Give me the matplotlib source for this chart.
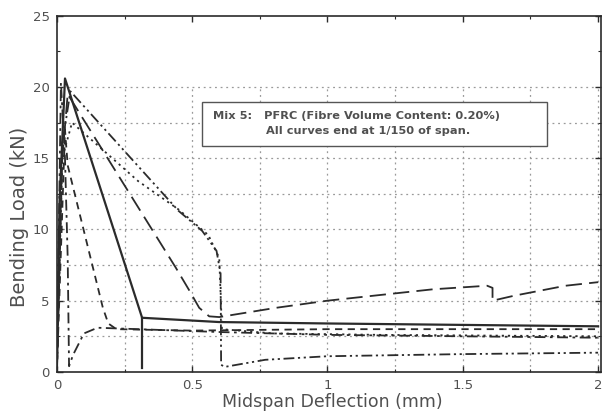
import matplotlib
matplotlib.use('Agg')
import matplotlib.pyplot as plt
from matplotlib.patches import Rectangle

# Curves (deflection in mm, load in kN)
solid_x = [0.0, 0.01, 0.03, 0.315, 0.6, 1.0, 1.5, 2.0]
solid_y = [0.0, 12.0, 20.6, 3.8, 3.5, 3.4, 3.3, 3.2]
solid_drop_x = [0.315, 0.315]
solid_drop_y = [3.8, 0.3]

longdash_x = [0.0, 0.02, 0.04, 0.44, 0.49, 0.526, 0.563, 0.6, 0.81, 1.0, 1.39, 1.59, 1.61, 1.61, 1.69, 1.88, 2.0]
longdash_y = [0.0, 15.0, 19.5, 7.3, 5.7, 4.5, 3.9, 3.85, 4.5, 5.0, 5.8, 6.05, 5.9, 5.0, 5.35, 6.05, 6.3]

dashdotdot_x = [0.0, 0.02, 0.05, 0.45, 0.537, 0.59, 0.605, 0.607, 0.62, 0.77, 1.0, 1.5, 2.0]
dashdotdot_y = [0.0, 16.0, 19.7, 11.3, 9.9, 8.5, 6.9, 0.5, 0.35, 0.85, 1.1, 1.25, 1.35]

dotted_x = [0.0, 0.02, 0.056, 0.3, 0.45, 0.56, 0.6, 0.61, 0.8, 1.2, 2.0]
dotted_y = [0.0, 15.0, 17.5, 13.4, 11.4, 9.6, 8.0, 3.0, 2.7, 2.6, 2.5]

shortdash_x = [0.0, 0.03, 0.04, 0.17, 0.19, 0.22, 0.5, 1.0, 1.5, 2.0]
shortdash_y = [0.0, 17.0, 14.5, 4.5, 3.4, 3.0, 2.9, 3.0, 3.0, 3.0]

dashdot_x = [0.0, 0.015, 0.03, 0.04, 0.045, 0.06, 0.1, 0.15, 0.3, 0.6, 1.0, 2.0]
dashdot_y = [0.0, 20.3, 15.0, 8.0, 0.4, 1.2, 2.7, 3.1, 3.0, 2.8, 2.6, 2.4]

grid_x = [0.25, 0.5, 0.75, 1.0, 1.25, 1.5, 1.75, 2.0]
grid_y = [2.5, 5.0, 7.5, 10.0, 12.5, 15.0, 17.5, 20.0]

note_line1 = 'Mix 5:   PFRC (Fibre Volume Content: 0.20%)'
note_line2 = 'All curves end at 1/150 of span.'

ink = '#2b2b2b'
text_col = '#505050'

fig = plt.figure(figsize=(6.05, 4.16), dpi=100)
ax = fig.add_axes([0.094, 0.106, 0.899, 0.856])

# dotted grid, only drawn up to 20 kN like in the original
ax.hlines(grid_y, 0, 2.0, colors='#9a9a9a', linestyles=(0, (1.5, 3.0)), linewidth=0.9, zorder=1)
ax.vlines(grid_x, 0, 20.0, colors='#9a9a9a', linestyles=(0, (1.5, 3.0)), linewidth=0.9, zorder=1)

lw = 1.3
ax.plot(solid_x, solid_y, color=ink, linewidth=1.6, zorder=3)
ax.plot(solid_drop_x, solid_drop_y, color=ink, linewidth=1.6, zorder=3)
ax.plot(longdash_x, longdash_y, color=ink, linewidth=lw, dashes=(9, 4), zorder=3)
ax.plot(dashdotdot_x, dashdotdot_y, color=ink, linewidth=lw, dashes=(6, 2, 1.2, 2, 1.2, 2), zorder=3)
ax.plot(dotted_x, dotted_y, color=ink, linewidth=lw, dashes=(1.2, 2.2), zorder=3)
ax.plot(shortdash_x, shortdash_y, color=ink, linewidth=lw, dashes=(4, 3), zorder=3)
ax.plot(dashdot_x, dashdot_y, color=ink, linewidth=lw, dashes=(6, 2.5, 1.5, 2.5), zorder=3)

ax.set_xlim(0, 2.01)
ax.set_ylim(0, 25)
ax.set_xticks([0, 0.5, 1.0, 1.5, 2.0])
ax.set_xticklabels(['0', '0.5', '1', '1.5', '2'])
ax.set_xticks([0.25, 0.75, 1.25, 1.75], minor=True)
ax.set_yticks([0, 5, 10, 15, 20, 25])
ax.set_yticks([2.5, 7.5, 12.5, 17.5, 22.5], minor=True)
ax.tick_params(which='both', direction='in', top=True, right=True, color=ink,
               labelsize=9.5, labelcolor=text_col)
ax.tick_params(which='major', length=4, width=1, pad=5)
ax.tick_params(which='minor', length=2.5, width=0.8)
for s in ax.spines.values():
    s.set_color(ink)
    s.set_linewidth(1.2)

ax.set_xlabel('Midspan Deflection (mm)', fontsize=12.5, color=text_col)
ax.set_ylabel('Bending Load (kN)', fontsize=14, color=text_col)
ax.xaxis.set_label_coords(0.506, -0.058)
ax.yaxis.set_label_coords(-0.052, 0.435)

# annotation box
ax.add_patch(Rectangle((0.2665, 0.635), 0.634, 0.123, transform=ax.transAxes,
                       facecolor='white', edgecolor='#555555', linewidth=1.0, zorder=4))
ax.text(0.287, 0.719, note_line1, transform=ax.transAxes, fontsize=8.2,
        fontweight='bold', color=text_col, va='center', ha='left', zorder=5)
ax.text(0.384, 0.677, note_line2, transform=ax.transAxes, fontsize=8.2,
        fontweight='bold', color=text_col, va='center', ha='left', zorder=5)

fig.savefig('out.png', dpi=100)
